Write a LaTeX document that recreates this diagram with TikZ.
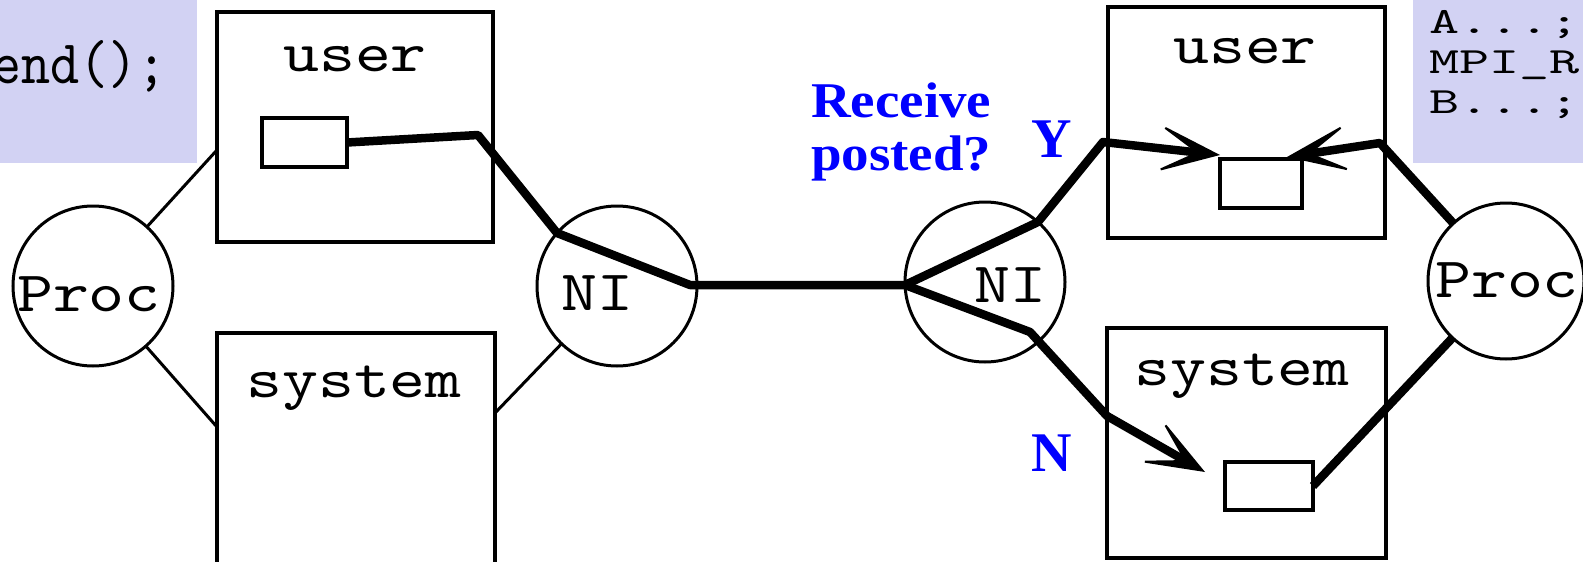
\documentclass[tikz,border=0pt]{standalone}
\usepackage{fontspec}
\setmainfont{Liberation Serif}
\newfontfamily\diafont[FakeStretch=1.2]{lmmono10-regular.otf}
\newfontfamily\codeLfont[FakeStretch=0.89]{lmmono10-regular.otf}
\newfontfamily\codeRfont[FakeStretch=1.55]{lmmono10-regular.otf}
\newfontfamily\notefont[FakeStretch=1.1]{Liberation Serif Bold}
\newfontfamily\ynfont{Liberation Serif Bold}
\usetikzlibrary{arrows.meta}
\definecolor{codebg}{RGB}{210,210,243}
\definecolor{noteblue}{RGB}{0,0,255}

\begin{document}
\begin{tikzpicture}[x=1pt,y=-1pt,
  box/.style={draw, line width=4.5pt, inner sep=0pt, outer sep=0pt},
  buf/.style={draw, line width=3.5pt, inner sep=0pt, outer sep=0pt},
  disc/.style={draw, circle, line width=3pt, minimum size=160pt, inner sep=0pt, outer sep=0pt},
  lbl/.style={font=\diafont\fontsize{57}{57}\selectfont, anchor=base, inner sep=0pt},
  link/.style={line width=3pt},
  bus/.style={line width=8.5pt, line join=round},
  tip/.tip={Stealth[length=68pt, width=52pt, inset=44pt, line width=2pt]},
  codebox/.style={fill=codebg, draw=none, inner sep=0pt, outer sep=0pt},
  codeL/.style={font=\codeLfont\fontsize{62}{62}\selectfont, inner sep=0pt, anchor=base east},
  codeR/.style={font=\codeRfont\fontsize{37}{37}\selectfont, inner sep=0pt, anchor=base west},
  note/.style={font=\notefont\fontsize{50}{53}\selectfont, text=noteblue, inner sep=0pt, anchor=base west},
  yn/.style={font=\ynfont\fontsize{56}{56}\selectfont, text=noteblue, inner sep=0pt, anchor=base}]

\useasboundingbox (0,0) rectangle (1583,562);
\clip (0,0) rectangle (1583,562);

% code snippets
\node[codebox, minimum width=197pt, minimum height=163pt, anchor=north west] (codeLbox) at (0,0) {};
\node[codeL] (codeLline) at (167,83) {end();};
\node[codebox, minimum width=172pt, minimum height=163pt, anchor=north west] (codeRbox) at (1413,0) {};
\node[codeR] (codeR1) at (1429,33) {A...;};
\node[codeR] (codeR2) at (1429,73) {MPI\_R};
\node[codeR] (codeR3) at (1429,113) {B...;};

% memory boxes
\node[box, minimum width=276pt, minimum height=230pt] (userL) at (355,127) {};
\node[box, minimum width=278pt, minimum height=250pt] (sysL) at (356,458) {};
\node[box, minimum width=277pt, minimum height=231pt] (userR) at (1246.5,122.5) {};
\node[box, minimum width=279pt, minimum height=230pt] (sysR) at (1246.5,443) {};

\node[lbl] (userLtxt) at (355,71) {user};
\node[lbl] (sysLtxt) at (354,397) {system};
\node[lbl] (userRtxt) at (1245,63) {user};
\node[lbl] (sysRtxt) at (1242,385) {system};

% buffers
\node[buf, minimum width=85pt, minimum height=49pt] (bufL) at (304.5,142.5) {};
\node[buf, minimum width=82pt, minimum height=49pt] (bufR1) at (1261,183.5) {};
\node[buf, minimum width=88pt, minimum height=48pt] (bufR2) at (1269,486) {};

% processors and network interfaces
\node[disc] (procL) at (93,286) {};
\node[disc] (niL) at (617,286) {};
\node[disc] (niR) at (985,282) {};
\node[disc, minimum size=156pt] (procR) at (1506,281) {};

\node[lbl] (procLtxt) at (89,311) {Proc};
\node[lbl] (niLtxt) at (597,310) {NI};
\node[lbl] (niRtxt) at (1010,302) {NI};
\node[lbl] (procRtxt) at (1507,297) {Proc};

% thin links
\coordinate (pL1) at (217,150);
\coordinate (pL2) at (217,427);
\coordinate (nL1) at (495,413);
\draw[link] (procL) -- (pL1);
\draw[link] (procL) -- (pL2);
\draw[link] (niL) -- (nL1);

% message path
\coordinate (kL1) at (478,135);
\coordinate (kL2) at (557,233);
\coordinate (kL3) at (690,285);
\coordinate (kR0) at (905,285);
\coordinate (kR1) at (1038,222);
\coordinate (kR2) at (1103,142);
\coordinate (tipY) at (1220,155);
\coordinate (kR3) at (1030,332);
\coordinate (kR4) at (1107,416);
\coordinate (tipN) at (1205,472);
\coordinate (kR5) at (1380,143);
\coordinate (tipP) at (1287,157);

\draw[bus] (bufL.east) -- (kL1) -- (kL2) -- (kL3) -- (kR0);
\draw[bus, -tip] (kR0) -- (kR1) -- (kR2) -- (tipY);
\draw[bus, -tip] (kR0) -- (kR3) -- (kR4) -- (tipN);
\draw[bus, -tip] (procR) -- (kR5) -- (tipP);
\draw[bus] (bufR2.east) -- (procR);

% question and answers
\node[note] (recv1) at (811,117) {Receive};
\node[note] (recv2) at (811,170) {posted?};
\node[yn] (ylab) at (1052,157) {Y};
\node[yn] (nlab) at (1052,471) {N};
\end{tikzpicture}
\end{document}
